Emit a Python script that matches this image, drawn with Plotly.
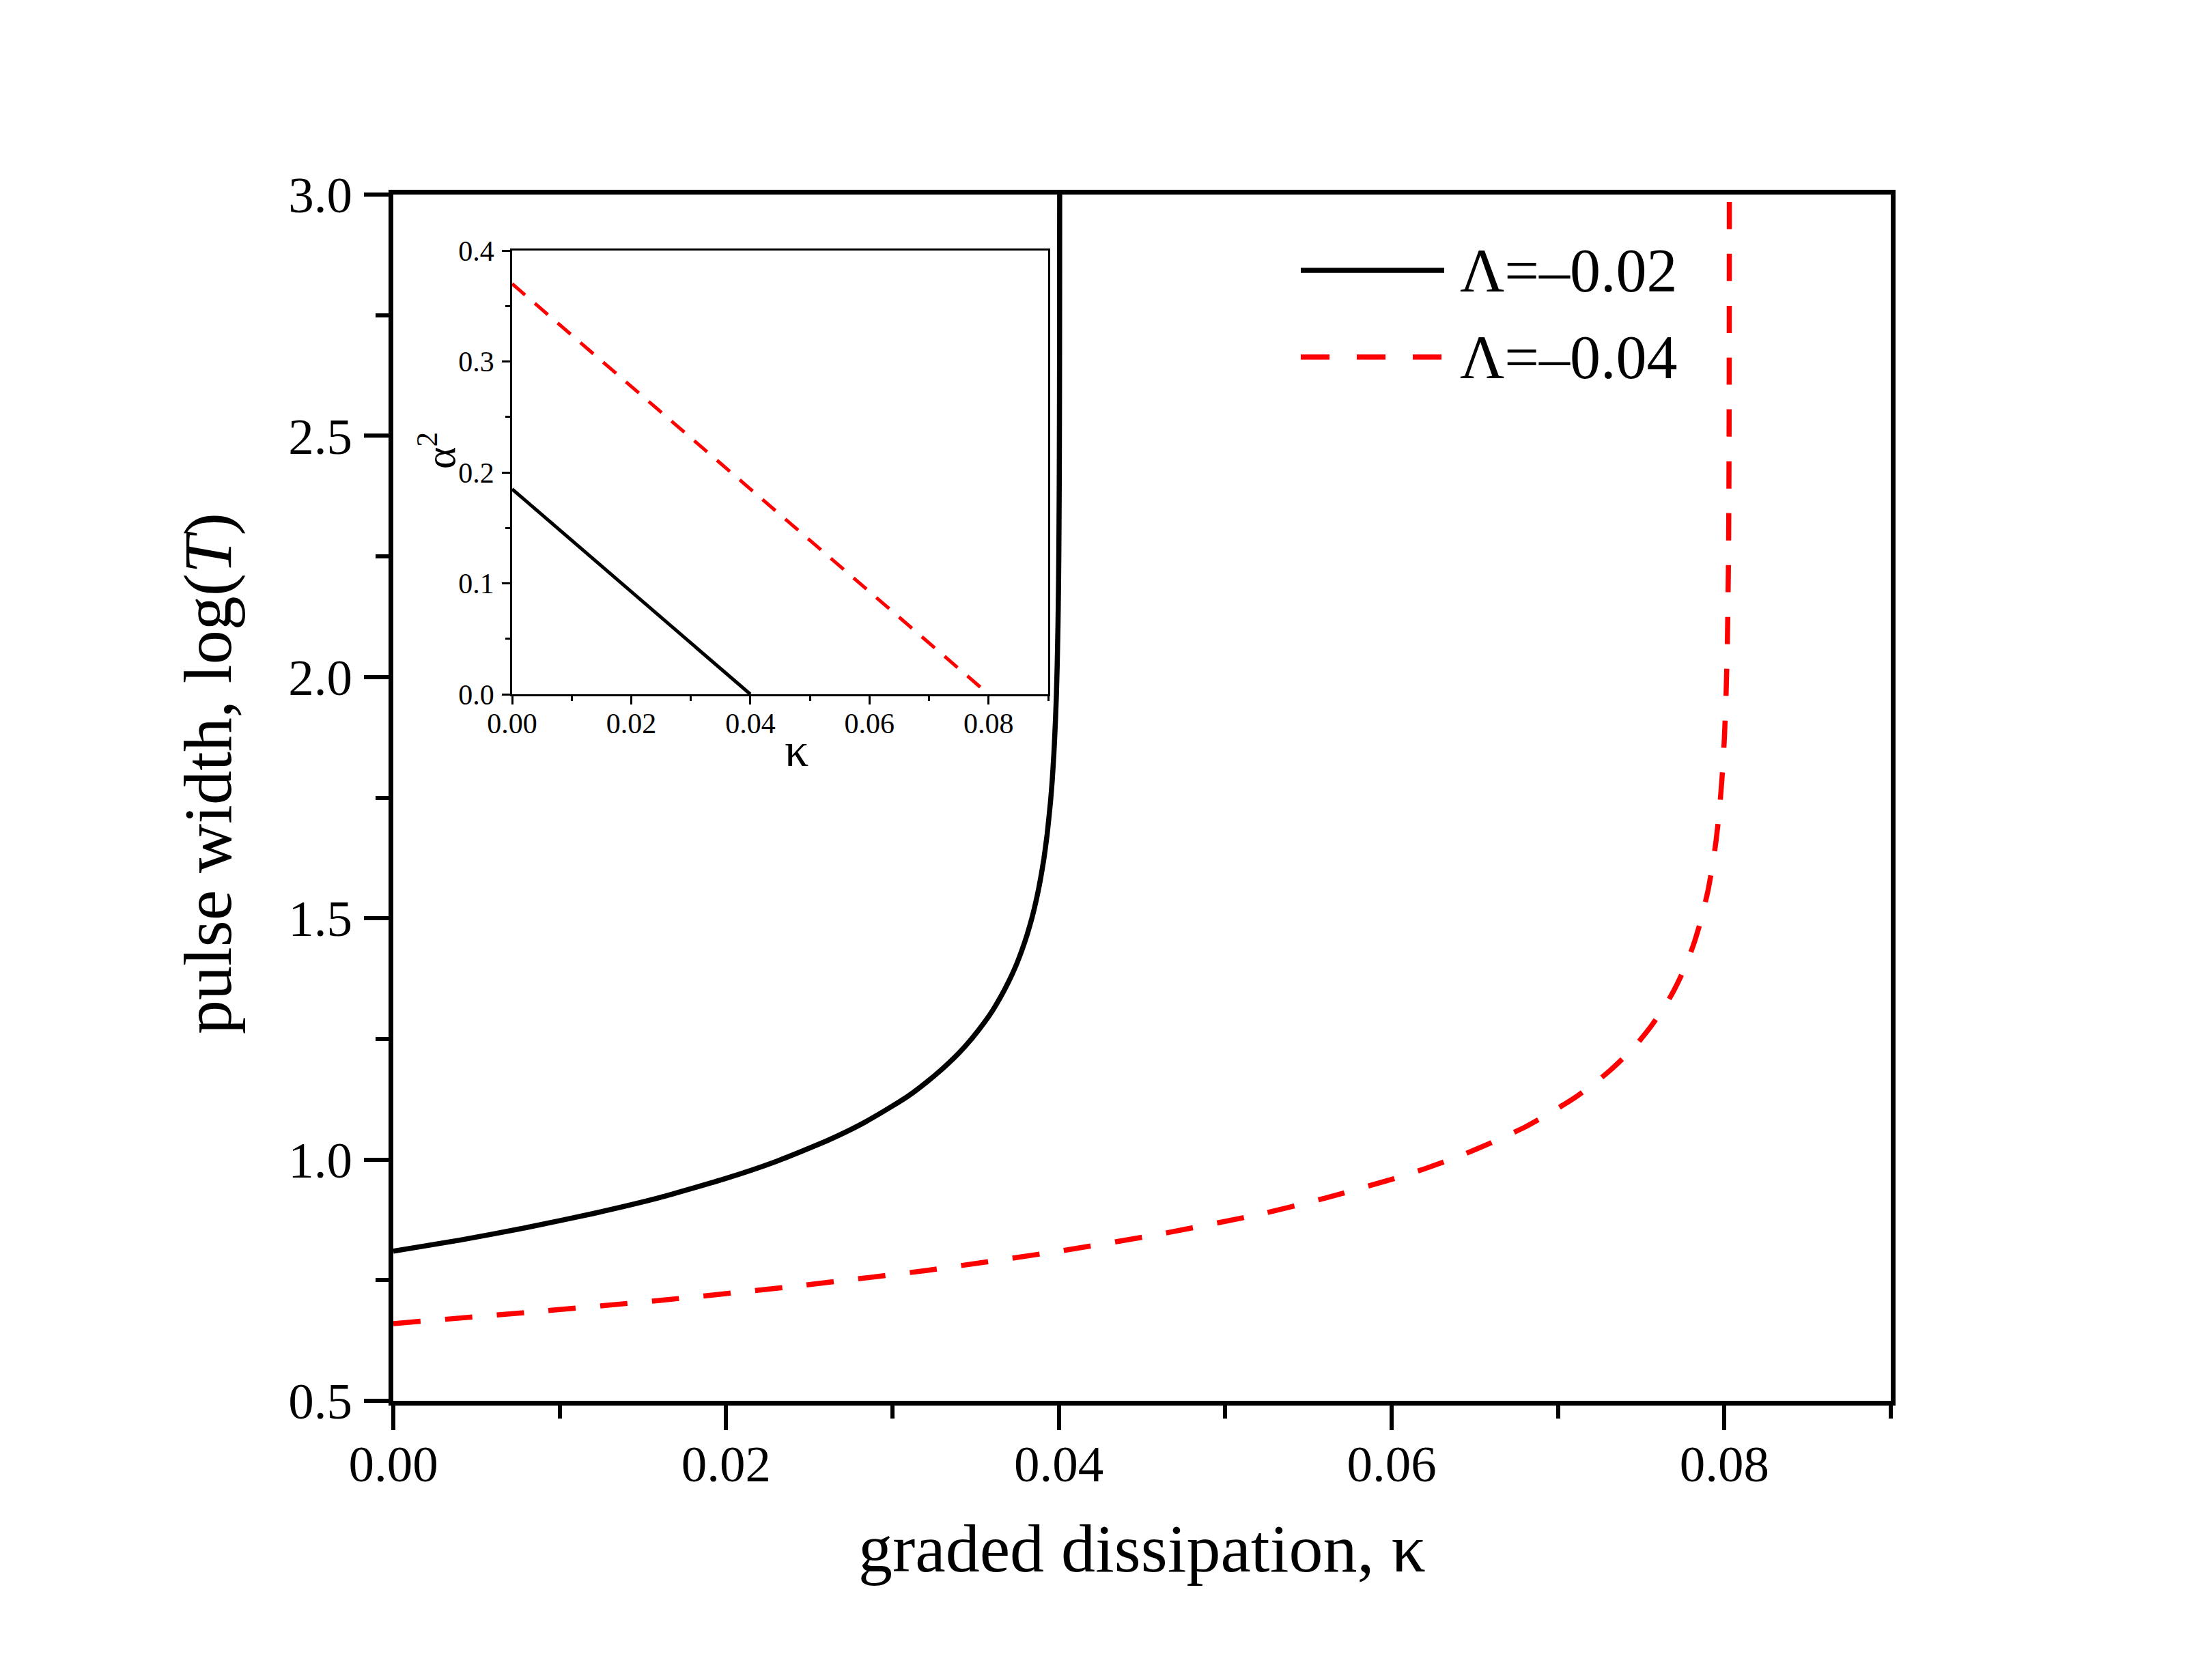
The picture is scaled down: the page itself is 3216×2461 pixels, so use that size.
import plotly.graph_objects as go

# main panel: log of pulse width vs graded dissipation
kappa_a = [0, 0.004, 0.008, 0.012, 0.016, 0.02, 0.023, 0.026, 0.028, 0.03, 0.031, 0.032,
           0.033, 0.034, 0.0348, 0.0355, 0.036, 0.0365, 0.037, 0.0374, 0.0378, 0.0381,
           0.0384, 0.0387, 0.0389, 0.0391, 0.0393, 0.0395, 0.0396, 0.0397, 0.0398,
           0.03985, 0.0399, 0.03995, 0.03998, 0.04, 0.04002, 0.04003, 0.04004, 0.040045,
           0.04005]
logT_a = [0.810, 0.833, 0.859, 0.888, 0.921, 0.961, 0.996, 1.038, 1.071, 1.111, 1.133, 1.159,
          1.188, 1.221, 1.252, 1.283, 1.308, 1.337, 1.370, 1.400, 1.436, 1.467,
          1.503, 1.547, 1.582, 1.623, 1.675, 1.742, 1.785, 1.840, 1.913,
          1.961, 2.024, 2.112, 2.189, 2.262, 2.373, 2.461, 2.610, 2.760,
          3.050]

kappa_b = [0, 0.008, 0.016, 0.024, 0.032, 0.04, 0.046, 0.052, 0.056, 0.06, 0.062, 0.064,
           0.066, 0.068, 0.0696, 0.071, 0.0722, 0.0732, 0.074, 0.0748, 0.0755, 0.0762,
           0.0768, 0.0774, 0.0778, 0.0782, 0.0786, 0.079, 0.0793, 0.0795, 0.0797, 0.0799,
           0.08, 0.0801, 0.08018, 0.08024, 0.08027, 0.08029, 0.0803]
logT_b = [0.660, 0.683, 0.708, 0.737, 0.770, 0.810, 0.845, 0.886, 0.920, 0.959, 0.981, 1.006,
          1.035, 1.067, 1.098, 1.128, 1.158, 1.187, 1.213, 1.242, 1.272, 1.306,
          1.340, 1.381, 1.413, 1.451, 1.497, 1.555, 1.612, 1.661, 1.723, 1.811,
          1.874, 1.962, 2.073, 2.223, 2.370, 2.610, 3.050]

# inset: alpha^2 vs kappa
inset_kappa_a = [0, 0.04]
alpha2_a = [0.185, 0]
inset_kappa_b = [0, 0.08]
alpha2_b = [0.37, 0]

labels = ['Λ=–0.02', 'Λ=–0.04']

W, H = 3216, 2461
FONT = 'Liberation Serif'
OFF = 8  # the page body adds an 8px margin


def px(x):
    return (x - OFF) / W


def py(y):
    return 1 - (y - OFF) / H


fig = go.Figure()
fig.add_trace(go.Scatter(x=kappa_a, y=logT_a, mode='lines',
                         line=dict(color='black', width=7.5, shape='spline', smoothing=0.5),
                         xaxis='x', yaxis='y'))
fig.add_trace(go.Scatter(x=kappa_b, y=logT_b, mode='lines',
                         line=dict(color='#ff0000', width=7.5, dash='40px,36px',
                                   shape='spline', smoothing=0.5),
                         xaxis='x', yaxis='y'))
fig.add_trace(go.Scatter(x=inset_kappa_a, y=alpha2_a, mode='lines',
                         line=dict(color='black', width=5), xaxis='x2', yaxis='y2'))
fig.add_trace(go.Scatter(x=inset_kappa_b, y=alpha2_b, mode='lines',
                         line=dict(color='#ff0000', width=5, dash='25px,19px'),
                         xaxis='x2', yaxis='y2'))

main_ax = dict(showline=True, linewidth=7, linecolor='black', mirror=True,
               ticks='outside', ticklen=36, tickwidth=6, tickcolor='black',
               showgrid=False, zeroline=False, automargin=False,
               tickfont=dict(family=FONT, size=75, color='black'))
inset_ax = dict(showline=True, linewidth=2.5, linecolor='black', mirror=True,
                ticks='outside', ticklen=12, tickwidth=2.5, tickcolor='black',
                showgrid=False, zeroline=False, automargin=False,
                tickfont=dict(family=FONT, size=42, color='black'))

fig.update_layout(
    width=W, height=H,
    margin=dict(l=0, r=0, t=0, b=0, pad=0),
    paper_bgcolor='white', plot_bgcolor='white',
    showlegend=False,
    font=dict(family=FONT, color='black'),
    xaxis=dict(main_ax, domain=[px(576), px(2769)], range=[0, 0.09], anchor='y',
               dtick=0.02, tick0=0, tickformat='.2f', ticklabelstandoff=-15,
               minor=dict(ticks='outside', ticklen=19, tickwidth=6, tickcolor='black',
                          dtick=0.01, tick0=0, showgrid=False)),
    yaxis=dict(main_ax, domain=[py(2052), py(285)], range=[0.5, 3.0], anchor='x',
               dtick=0.5, tick0=0.5, tickformat='.1f', ticklabelstandoff=2,
               minor=dict(ticks='outside', ticklen=19, tickwidth=6, tickcolor='black',
                          dtick=0.25, tick0=0.5, showgrid=False)),
    xaxis2=dict(inset_ax, domain=[px(750), px(1535)], range=[0, 0.09], anchor='y2',
                dtick=0.02, tick0=0, tickformat='.2f', ticklabelstandoff=-8,
                minor=dict(ticks='outside', ticklen=7, tickwidth=2.5, tickcolor='black',
                           dtick=0.01, tick0=0, showgrid=False)),
    yaxis2=dict(inset_ax, domain=[py(1017), py(367)], range=[0, 0.4], anchor='x2',
                dtick=0.1, tick0=0, tickformat='.1f', ticklabelstandoff=3,
                minor=dict(ticks='outside', ticklen=7, tickwidth=2.5, tickcolor='black',
                           dtick=0.05, tick0=0, showgrid=False)),
)

# axis titles
titles = [
    ('graded dissipation, κ', 1672, 2268, 0, 100),
    ('pulse width, log(<i>T</i>)', 304, 1133, -90, 100),
    ('κ', 1166, 1098, 0, 70),
    ('α<sup>2</sup>', 640, 660, -90, 62),
]
for text, x, y, angle, size in titles:
    fig.add_annotation(text=text, xref='paper', yref='paper', x=px(x), y=py(y),
                       xanchor='center', yanchor='middle', showarrow=False,
                       textangle=angle, font=dict(family=FONT, size=size, color='black'))

# legend drawn by hand so the line samples are as long as in the original
legend_rows = [(396, dict(color='black', width=7.5)),
               (523, dict(color='#ff0000', width=7.5, dash='42px,40px'))]
for (ypix, line), label in zip(legend_rows, labels):
    fig.add_shape(type='line', xref='paper', yref='paper',
                  x0=px(1905), x1=px(2115), y0=py(ypix), y1=py(ypix), line=line)
    fig.add_annotation(text=label, xref='paper', yref='paper',
                       x=px(2136), y=py(ypix), xanchor='left', yanchor='middle',
                       showarrow=False, font=dict(family=FONT, size=90, color='black'))

fig.write_html('out.html')
